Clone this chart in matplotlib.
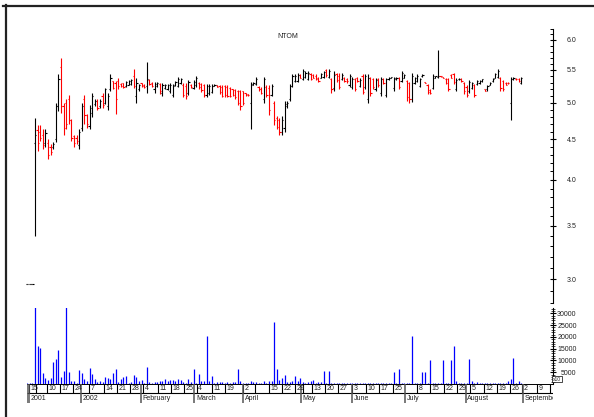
import numpy as np
import matplotlib
matplotlib.use("Agg")
import matplotlib.pyplot as plt
from matplotlib.lines import Line2D

plt.rcParams['font.family'] = ['Liberation Sans', 'DejaVu Sans']

# daily bars for NTOM, oldest first (first three are the flat 2.96 prints)
opens = [2.96, 2.96, 2.96,
    4.45, 4.62, 4.60, 4.55, 4.45, 4.45, 4.40, 4.40, 4.50, 4.95,
    5.55, 4.95, 5.00, 5.05, 4.75, 4.54, 4.52, 4.42, 4.65, 5.05,
    4.82, 4.68, 4.85, 4.98, 5.03, 4.95, 5.10, 5.00, 4.95, 5.20,
    5.32, 5.30, 5.33, 5.28, 5.29, 5.25, 5.27, 5.28, 5.40, 5.10,
    5.20, 5.29, 5.27, 5.25, 5.34, 5.30, 5.20, 5.25, 5.28, 5.15,
    5.22, 5.21, 5.18, 5.12, 5.26, 5.25, 5.30, 5.27, 5.25, 5.15,
    5.27, 5.22, 5.26, 5.30, 5.28, 5.26, 5.12, 5.15, 5.16, 5.25,
    5.26, 5.25, 5.24, 5.25, 5.24, 5.22, 5.20, 5.19, 5.18, 5.17,
    5.17, 5.14, 5.13, 5.00, 5.27, 5.28, 5.24, 5.21, 5.05, 5.24,
    5.22, 5.12, 5.00, 4.79, 4.75, 4.60, 4.65, 4.95, 5.05, 5.25,
    5.33, 5.33, 5.42, 5.36, 5.39, 5.36, 5.44, 5.42, 5.41, 5.38,
    5.38, 5.39, 5.50, 5.39, 5.36, 5.22, 5.43, 5.40, 5.36, 5.38,
    5.36, 5.26, 5.23, 5.35, 5.38, 5.25, 5.40, 5.23, 5.05, 5.37,
    5.35, 5.21, 5.35, 5.14, 5.36, 5.12, 5.35, 5.37, 5.22, 5.35,
    5.37, 5.33, 5.38, 5.32, 5.29, 5.05, 5.30, 5.33, 5.25, 5.40,
    5.31, 5.26, 5.19, 5.22, 5.38, 5.39, 5.41, 5.39, 5.36, 5.35,
    5.42, 5.43, 5.21, 5.35, 5.36, 5.30, 5.24, 5.18, 5.22, 5.27,
    5.28, 5.29, 5.32, 5.20, 5.20, 5.27, 5.32, 5.38, 5.39, 5.37,
    5.32, 5.30, 5.30, 5.00, 5.35, 5.36, 5.36, 5.30]
highs = [2.96, 2.96, 2.96,
    4.79, 4.69, 4.69, 4.63, 4.63, 4.50, 4.44, 4.46, 5.00, 5.43,
    5.69, 5.00, 5.05, 5.12, 4.77, 4.56, 4.56, 4.63, 5.00, 5.12,
    4.84, 4.97, 5.15, 5.05, 5.05, 5.05, 5.14, 5.22, 5.15, 5.43,
    5.33, 5.33, 5.37, 5.30, 5.30, 5.33, 5.34, 5.36, 5.51, 5.38,
    5.28, 5.30, 5.28, 5.63, 5.36, 5.31, 5.31, 5.31, 5.30, 5.30,
    5.28, 5.28, 5.30, 5.28, 5.33, 5.39, 5.37, 5.29, 5.29, 5.34,
    5.28, 5.34, 5.41, 5.31, 5.30, 5.28, 5.28, 5.28, 5.28, 5.28,
    5.26, 5.26, 5.26, 5.26, 5.26, 5.23, 5.21, 5.20, 5.19, 5.19,
    5.18, 5.15, 5.13, 5.31, 5.31, 5.39, 5.25, 5.23, 5.39, 5.26,
    5.26, 5.28, 5.03, 4.81, 4.78, 4.81, 5.03, 5.03, 5.28, 5.43,
    5.43, 5.45, 5.43, 5.51, 5.48, 5.48, 5.45, 5.43, 5.43, 5.39,
    5.45, 5.48, 5.51, 5.51, 5.37, 5.48, 5.45, 5.45, 5.45, 5.39,
    5.37, 5.43, 5.39, 5.37, 5.39, 5.37, 5.43, 5.43, 5.43, 5.39,
    5.37, 5.37, 5.37, 5.39, 5.37, 5.37, 5.39, 5.39, 5.39, 5.39,
    5.39, 5.48, 5.43, 5.34, 5.31, 5.45, 5.39, 5.43, 5.37, 5.43,
    5.31, 5.28, 5.20, 5.43, 5.40, 5.82, 5.41, 5.39, 5.37, 5.37,
    5.43, 5.45, 5.37, 5.37, 5.37, 5.31, 5.26, 5.34, 5.31, 5.28,
    5.34, 5.34, 5.35, 5.20, 5.26, 5.31, 5.37, 5.45, 5.51, 5.39,
    5.34, 5.31, 5.31, 5.39, 5.39, 5.37, 5.37, 5.39]
lows = [2.96, 2.96, 2.96,
    3.40, 4.35, 4.47, 4.37, 4.40, 4.25, 4.30, 4.37, 4.46, 4.88,
    4.86, 4.56, 4.63, 4.70, 4.47, 4.40, 4.44, 4.37, 4.61, 4.70,
    4.65, 4.63, 4.80, 4.95, 4.90, 4.93, 4.93, 4.98, 4.90, 5.18,
    5.20, 4.84, 5.20, 5.24, 5.22, 5.24, 5.26, 5.26, 5.22, 4.99,
    5.18, 5.24, 5.22, 5.15, 5.26, 5.23, 5.15, 5.23, 5.13, 5.10,
    5.20, 5.19, 5.15, 5.08, 5.25, 5.23, 5.28, 5.08, 5.06, 5.12,
    5.22, 5.20, 5.23, 5.21, 5.16, 5.08, 5.08, 5.12, 5.14, 5.25,
    5.23, 5.13, 5.08, 5.08, 5.08, 5.08, 5.10, 5.05, 4.97, 4.89,
    4.97, 5.10, 5.10, 4.63, 5.26, 5.26, 5.18, 5.13, 5.00, 5.08,
    4.83, 5.10, 4.69, 4.63, 4.56, 4.56, 4.60, 4.92, 5.03, 5.23,
    5.31, 5.31, 5.37, 5.34, 5.37, 5.34, 5.34, 5.37, 5.34, 5.31,
    5.37, 5.37, 5.39, 5.37, 5.15, 5.18, 5.31, 5.20, 5.34, 5.31,
    5.30, 5.23, 5.20, 5.18, 5.31, 5.23, 5.13, 5.20, 4.99, 5.10,
    5.20, 5.18, 5.23, 5.10, 5.28, 5.08, 5.34, 5.37, 5.18, 5.34,
    5.20, 5.31, 5.37, 5.03, 5.00, 5.01, 5.28, 5.31, 5.23, 5.39,
    5.29, 5.13, 5.13, 5.20, 5.38, 5.37, 5.39, 5.37, 5.28, 5.18,
    5.37, 5.28, 5.18, 5.34, 5.31, 5.13, 5.08, 5.15, 5.20, 5.08,
    5.26, 5.28, 5.31, 5.18, 5.18, 5.26, 5.31, 5.37, 5.37, 5.18,
    5.18, 5.26, 5.28, 4.76, 5.34, 5.34, 5.31, 5.28]
closes = [2.96, 2.96, 2.96,
    4.56, 4.45, 4.52, 4.42, 4.58, 4.30, 4.33, 4.44, 4.95, 5.35,
    4.95, 4.65, 4.70, 4.75, 4.52, 4.45, 4.48, 4.60, 4.95, 4.82,
    4.70, 4.92, 5.10, 5.03, 4.93, 5.02, 4.97, 5.20, 5.10, 5.38,
    5.22, 5.05, 5.25, 5.25, 5.24, 5.31, 5.32, 5.34, 5.25, 5.30,
    5.26, 5.25, 5.24, 5.35, 5.28, 5.25, 5.28, 5.29, 5.18, 5.27,
    5.26, 5.26, 5.27, 5.25, 5.31, 5.36, 5.35, 5.12, 5.10, 5.31,
    5.24, 5.31, 5.38, 5.23, 5.19, 5.12, 5.25, 5.25, 5.25, 5.27,
    5.24, 5.16, 5.10, 5.12, 5.10, 5.10, 5.12, 5.08, 5.00, 4.95,
    5.00, 5.11, 5.11, 5.28, 5.30, 5.36, 5.20, 5.15, 5.35, 5.12,
    4.90, 5.25, 4.75, 4.66, 4.60, 4.75, 4.98, 5.00, 5.25, 5.40,
    5.40, 5.42, 5.38, 5.48, 5.45, 5.45, 5.36, 5.38, 5.36, 5.33,
    5.43, 5.46, 5.42, 5.48, 5.20, 5.42, 5.34, 5.24, 5.42, 5.33,
    5.32, 5.40, 5.36, 5.21, 5.33, 5.34, 5.16, 5.40, 5.38, 5.14,
    5.23, 5.34, 5.26, 5.36, 5.30, 5.35, 5.38, 5.39, 5.38, 5.38,
    5.23, 5.45, 5.42, 5.08, 5.05, 5.40, 5.37, 5.40, 5.35, 5.42,
    5.29, 5.16, 5.15, 5.40, 5.40, 5.41, 5.40, 5.37, 5.30, 5.20,
    5.38, 5.31, 5.34, 5.36, 5.33, 5.18, 5.12, 5.31, 5.29, 5.12,
    5.32, 5.33, 5.35, 5.18, 5.25, 5.30, 5.36, 5.43, 5.48, 5.22,
    5.20, 5.27, 5.29, 5.35, 5.38, 5.35, 5.33, 5.37]
volumes = [300, 400, 300,
    32800, 16100, 15100, 4500, 2700, 1700, 2400, 9500, 10500, 14400,
    3100, 5600, 32800, 5200, 1300, 1300, 500, 5900, 4500, 2100,
    1300, 6600, 4200, 2000, 1000, 1300, 1000, 3100, 2700, 2100,
    4800, 6400, 1000, 2100, 2800, 3400, 600, 700, 3800, 3100,
    1400, 1700, 500, 7300, 1000, 600, 1000, 1000, 1300, 1300,
    2000, 1300, 1700, 1700, 1300, 2000, 1700, 1000, 600, 2000,
    1000, 6200, 300, 4200, 1300, 1300, 20300, 1300, 3400, 600,
    800, 700, 700, 600, 800, 600, 700, 800, 6400, 1300,
    600, 600, 600, 1300, 800, 700, 600, 300, 1300, 300,
    1100, 1100, 26400, 6200, 1700, 2700, 3800, 1000, 1000, 1300,
    3400, 1400, 2500, 800, 600, 800, 1400, 1500, 600, 700,
    700, 5500, 600, 5500, 400, 600, 600, 600, 500, 400,
    500, 400, 500, 400, 500, 400, 500, 400, 500, 400,
    500, 400, 500, 400, 500, 400, 500, 400, 5200, 400,
    6400, 400, 500, 400, 500, 20300, 400, 600, 500, 5200,
    5200, 400, 10200, 400, 400, 500, 400, 10200, 400, 400,
    10200, 16200, 1300, 400, 400, 500, 400, 10600, 1300, 500,
    800, 500, 600, 500, 600, 500, 600, 500, 400, 500,
    600, 500, 1300, 2100, 10900, 500, 1100, 300]

# date axis: weekly ticks and month boundaries (in bar units)
week_pos = [0.7, 3.3, 7.5, 12.6, 17.5, 23.8, 29.5, 34.4, 39.5, 44.7,
            50.2, 55.2, 60.3, 65.2, 71.0, 76.1, 83.1, 87.6, 93.1, 97.9,
            103.0, 106.2, 109.4, 114.5, 119.7, 125.0, 130.2, 135.4, 140.6, 149.8,
            155.0, 160.4, 165.3, 170.3, 175.8, 180.6, 185.7, 190.4, 196.0, 201.1]
week_labels = ['15', '', '10', '17', '24', '7', '14', '21', '28', '4',
               '11', '18', '25', '4', '11', '19', '2', '', '15', '22',
               '29', '', '13', '20', '27', '3', '10', '17', '25', '8',
               '15', '22', '29', '5', '12', '19', '26', '2', '9', '']
month_pos = [-0.1, 0.8, 20.7, 43.7, 64.3, 83.1, 105.2, 125.0, 145.4, 168.7, 190.6]
month_labels = ['', '2001', '2002', 'February', 'March', 'April', 'May',
                'June', 'July', 'August', 'September']

price_ticks = [3.0, 3.5, 4.0, 4.5, 5.0, 5.5, 6.0]
vol_ticks = [5000, 10000, 15000, 20000, 25000, 30000]

opens = np.array(opens); highs = np.array(highs)
lows = np.array(lows); closes = np.array(closes)
x = np.arange(len(highs))
colors = np.where(closes >= opens, 'black', 'red')

W, H = 594, 417
def box(l, t, r, b):
    return [l / W, 1 - b / H, (r - l) / W, (b - t) / H]

fig = plt.figure(figsize=(W / 100, H / 100), dpi=100)
axp = fig.add_axes(box(27, 28.6, 553, 302.8))
axv = fig.add_axes(box(27, 308, 553, 384))
axd = fig.add_axes(box(27, 384, 553, 403))
xlim = (-0.08, 202.2)
txt = '#222222'

# price panel
axp.vlines(x, lows, highs, colors=colors, lw=0.8)
axp.hlines(opens, x - 0.45, x, colors=colors, lw=0.8, clip_on=False)
axp.hlines(closes, x, x + 0.45, colors=colors, lw=0.8, clip_on=False)
axp.set_yscale('log')
axp.set_ylim(2.8, 6.2)
axp.set_xlim(*xlim)
axp.set_xticks([])
axp.yaxis.tick_right()
axp.set_yticks(price_ticks, labels=['%.1f' % t for t in price_ticks], ha='right')
axp.set_yticks(np.round(np.arange(2.8, 6.25, 0.1), 1), minor=True)
axp.yaxis.set_minor_formatter(plt.NullFormatter())
axp.tick_params(axis='y', which='major', direction='inout', length=4, width=0.8,
                pad=15, labelsize=5, labelcolor=txt)
axp.tick_params(axis='y', which='minor', direction='in', length=2.5, width=0.7)
for s in ['left', 'top', 'bottom']:
    axp.spines[s].set_visible(False)
axp.spines['right'].set_linewidth(0.8)

# volume panel
axv.vlines(x, 0, volumes, colors='#0000ff', lw=0.9)
axv.set_ylim(0, 32250)
axv.set_xlim(*xlim)
axv.set_xticks([])
axv.yaxis.tick_right()
axv.set_yticks(vol_ticks, labels=[str(t) for t in vol_ticks], ha='right')
axv.set_yticks(np.arange(1000, 32001, 1000), minor=True)
axv.tick_params(axis='y', which='major', direction='inout', length=4, width=0.8,
                pad=15, labelsize=5, labelcolor=txt)
axv.tick_params(axis='y', which='minor', direction='inout', length=2.5, width=0.5)
for s in ['left', 'top', 'bottom']:
    axv.spines[s].set_visible(False)
axv.spines['right'].set_linewidth(0.8)
axv.text(1.0, 0.03, 'x10', transform=axv.transAxes, fontsize=3.5, color=txt,
         ha='left', va='bottom',
         bbox=dict(boxstyle='square,pad=0.15', fc='white', ec='black', lw=0.5))

# date axis boxes
axd.set_xlim(*xlim)
axd.set_ylim(19, 0)
axd.axis('off')
axd.hlines(0, xlim[0], xlim[1], colors='black', lw=1.4)
axd.hlines(8.7, xlim[0], xlim[1], colors='black', lw=0.8)
axd.vlines(week_pos, 0, 8.7, colors='black', lw=0.8)
axd.vlines(month_pos, 0, 19, colors='#555555', lw=1.1)
for p, lab in zip(week_pos, week_labels):
    axd.text(p + 0.6, 4.6, lab, fontsize=5, color=txt, ha='left', va='center',
             clip_on=True)
for p, lab in zip(month_pos, month_labels):
    axd.text(p + 0.6, 14, lab, fontsize=5, color=txt, ha='left', va='center',
             clip_on=True)

fig.text(288 / W, 1 - 37 / H, 'NTOM', fontsize=5, color=txt, ha='center', va='center')

# outer frame (top and left edges)
fig.add_artist(Line2D([3 / W, 1], [1 - 5.5 / H] * 2, transform=fig.transFigure,
                      lw=1.6, color='#222222'))
fig.add_artist(Line2D([5.5 / W] * 2, [0, 1 - 4.5 / H], transform=fig.transFigure,
                      lw=1.6, color='#222222'))

fig.savefig('out.png', dpi=100)
